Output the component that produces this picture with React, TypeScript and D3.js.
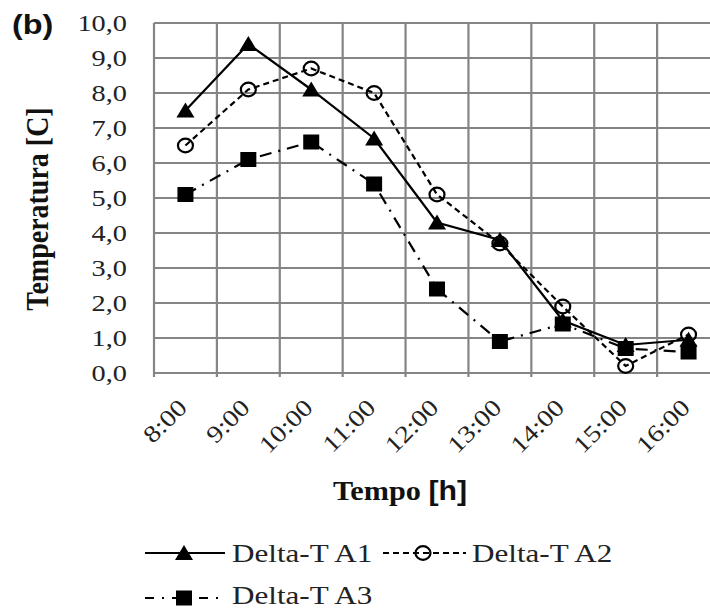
import React from "react";
import * as d3 from "d3";

const categories = ["8:00", "9:00", "10:00", "11:00", "12:00", "13:00", "14:00", "15:00", "16:00"];
const seriesA1 = [7.5, 9.4, 8.1, 6.7, 4.3, 3.8, 1.5, 0.8, 0.95];
const seriesA2 = [6.5, 8.1, 8.7, 8.0, 5.1, 3.7, 1.9, 0.2, 1.1];
const seriesA3 = [5.1, 6.1, 6.6, 5.4, 2.4, 0.9, 1.4, 0.7, 0.6];
const yTicks = [0, 1, 2, 3, 4, 5, 6, 7, 8, 9, 10];
const seriesNames = ["Delta-T A1", "Delta-T A2", "Delta-T A3"];

const W = 710;
const H = 609;
const left = 154;
const right = 720;
const top = 23;
const bottom = 373;
const SX = 1.18;
const serif = "Liberation Serif, DejaVu Serif, serif";
const sans = "Liberation Sans, DejaVu Sans, sans-serif";
const grid = "#858585";

const x = d3.scaleBand<string>().domain(categories).range([left, right]).padding(0);
const y = d3.scaleLinear().domain([0, 10]).range([bottom, top]);
const fmt = (v: number) => d3.format(".1f")(v).replace(".", ",");
const cx = (c: string) => (x(c) as number) + x.bandwidth() / 2;

type Kind = "tri" | "circ" | "sq";

function Marker({ kind, px, py }: { kind: Kind; px: number; py: number }) {
  if (kind === "tri") {
    return <path d={`M${px},${py - 8}L${px + 9},${py + 7}L${px - 9},${py + 7}Z`} fill="#000" />;
  }
  if (kind === "sq") {
    return <rect x={px - 8} y={py - 7.5} width={16} height={15} fill="#000" />;
  }
  return <ellipse cx={px} cy={py} rx={7.5} ry={6.8} fill="none" stroke="#000" strokeWidth={2.2} />;
}

const serifStyle = { fontFamily: serif };
const sansStyle = { fontFamily: sans };

export default function App() {
  const line = d3
    .line<number>()
    .x((_, i) => cx(categories[i]))
    .y((v) => y(v));

  const series = [
    { name: seriesNames[0], data: seriesA1, dash: undefined as string | undefined, kind: "tri" as Kind },
    { name: seriesNames[1], data: seriesA2, dash: "6,4", kind: "circ" as Kind },
    { name: seriesNames[2], data: seriesA3, dash: "12,7,2,7", kind: "sq" as Kind },
  ];

  const vLines = categories.map((c) => x(c) as number).concat([right]);

  return (
    <svg
      width={W}
      height={H}
      style={{ position: "absolute", left: 0, top: 0, background: "#fff" }}
    >
      <rect x={0} y={0} width={W} height={H} fill="#fff" />
      {/* grid */}
      {yTicks.map((t) => (
        <line key={"h" + t} x1={left} x2={right} y1={y(t)} y2={y(t)} stroke={grid} strokeWidth={2.2} />
      ))}
      {vLines.map((v, i) => (
        <line key={"v" + i} x1={v} x2={v} y1={top} y2={bottom + 4} stroke={grid} strokeWidth={2.2} />
      ))}
      {/* y tick labels */}
      {yTicks.map((t) => (
        <text
          key={"yl" + t}
          transform={`translate(127,${y(t)}) scale(${SX},1)`}
          textAnchor="end"
          dy="0.34em"
          style={serifStyle}
          fontSize={24}
          fill="#222"
        >
          {fmt(t)}
        </text>
      ))}
      {/* x tick labels */}
      {categories.map((c) => (
        <text
          key={"xl" + c}
          transform={`translate(${cx(c) + 3},${409}) rotate(-45) scale(${SX},1)`}
          textAnchor="end"
          style={serifStyle}
          fontSize={24}
          fill="#222"
        >
          {c}
        </text>
      ))}
      {/* series lines */}
      {series.map((s) => (
        <path
          key={"l" + s.name}
          d={line(s.data) as string}
          fill="none"
          stroke="#000"
          strokeWidth={2.2}
          strokeDasharray={s.dash}
        />
      ))}
      {/* markers */}
      {series.map((s) =>
        s.data.map((v, i) => (
          <Marker key={s.name + i} kind={s.kind} px={cx(categories[i])} py={y(v)} />
        ))
      )}
      {/* titles */}
      <text
        transform={`translate(12,34) scale(1.2,1)`}
        style={sansStyle}
        fontWeight="bold"
        fontSize={27}
        fill="#111"
      >
        (b)
      </text>
      <text
        transform={`translate(48,209) scale(1.15,1) rotate(-90)`}
        textAnchor="middle"
        style={serifStyle}
        fontWeight="bold"
        fontSize={28}
        fill="#111"
      >
        Temperatura [C]
      </text>
      <text
        transform={`translate(400,500) scale(1.08,1)`}
        textAnchor="middle"
        style={serifStyle}
        fontWeight="bold"
        fontSize={28}
        fill="#111"
      >
        Tempo <tspan style={sansStyle}>[h]</tspan>
      </text>
      {/* legend */}
      <g>
        <line x1={145} x2={225} y1={553} y2={553} stroke="#000" strokeWidth={2.2} />
        <Marker kind="tri" px={184} py={553} />
        <text transform={`translate(232,562) scale(1.22,1)`} style={serifStyle} fontSize={25.5} fill="#222">
          {seriesNames[0]}
        </text>
        <line x1={383} x2={466} y1={553} y2={553} stroke="#000" strokeWidth={2.2} strokeDasharray="6,4" />
        <Marker kind="circ" px={423} py={553} />
        <text transform={`translate(472,562) scale(1.22,1)`} style={serifStyle} fontSize={25.5} fill="#222">
          {seriesNames[1]}
        </text>
        <line x1={145} x2={222} y1={598} y2={598} stroke="#000" strokeWidth={2.2} strokeDasharray="9,8,2,8" />
        <Marker kind="sq" px={184} py={598} />
        <text transform={`translate(232,604) scale(1.22,1)`} style={serifStyle} fontSize={25.5} fill="#222">
          {seriesNames[2]}
        </text>
      </g>
    </svg>
  );
}
